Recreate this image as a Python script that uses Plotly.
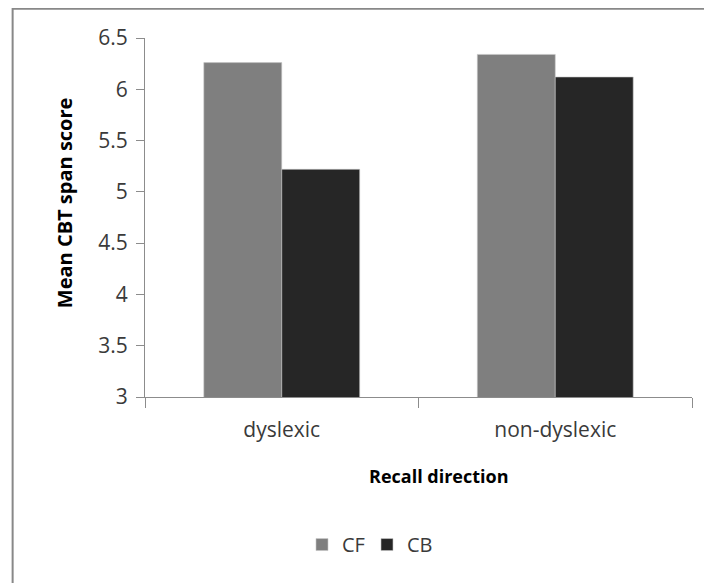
import plotly.graph_objects as go

categories = ["dyslexic", "non-dyslexic"]
cf_values = [6.26, 6.34]
cb_values = [5.22, 6.12]
y_ticks = [3, 3.5, 4, 4.5, 5, 5.5, 6, 6.5]
y_tick_labels = ["3", "3.5", "4", "4.5", "5", "5.5", "6", "6.5"]

font_family = "Open Sans, Noto Sans, sans-serif"

fig = go.Figure()
fig.add_trace(go.Bar(name="CF", x=categories, y=cf_values,
                     marker=dict(color="#7f7f7f", line=dict(color="#c8c8c8", width=0.6))))
fig.add_trace(go.Bar(name="CB", x=categories, y=cb_values,
                     marker=dict(color="#262626", line=dict(color="#c8c8c8", width=0.6))))

fig.update_layout(
    width=704, height=575,
    margin=dict(l=137, r=20, t=30, b=186, autoexpand=False),
    paper_bgcolor="white", plot_bgcolor="white",
    barmode="group", bargap=0.43, bargroupgap=0,
    font=dict(family=font_family, size=21, color="#3a3a3a"),
    showlegend=True,
    legend=dict(orientation="h", x=0.287, xanchor="left", y=-0.411, yanchor="middle",
                font=dict(size=20, color="#3a3a3a"), itemwidth=30, entrywidth=20,
                traceorder="normal"),
    xaxis=dict(
        type="category", showline=True, linecolor="#8c8c8c", linewidth=1,
        ticks="outside", tickson="boundaries", ticklen=10, tickcolor="#8c8c8c",
        tickfont=dict(size=21, color="#3a3a3a"), showgrid=False, zeroline=False,
        ticklabelstandoff=14,
    ),
    yaxis=dict(
        range=[3, 6.5], tickvals=y_ticks, ticktext=y_tick_labels,
        showline=True, linecolor="#8c8c8c", linewidth=1,
        ticks="outside", ticklen=8, tickcolor="#8c8c8c",
        tickfont=dict(size=21, color="#3a3a3a"), showgrid=False, zeroline=False,
        ticklabelstandoff=4,
    ),
    annotations=[
        dict(text="<b>Mean CBT span score</b>", xref="paper", yref="paper",
             x=-0.148, y=0.54, textangle=-90, showarrow=False,
             font=dict(size=20, color="#000000"), xanchor="center", yanchor="middle"),
        dict(text="<b>Recall direction</b>", xref="paper", yref="paper",
             x=0.537, y=-0.219, showarrow=False,
             font=dict(size=18, color="#000000"), xanchor="center", yanchor="middle"),
    ],
    shapes=[
        dict(type="rect", xref="paper", yref="paper", x0=-0.242, x1=1.06, y0=-0.55, y1=1.0816,
             line=dict(color="#888888", width=2), fillcolor="rgba(0,0,0,0)", layer="below"),
    ],
)

fig.write_html("out.html")
